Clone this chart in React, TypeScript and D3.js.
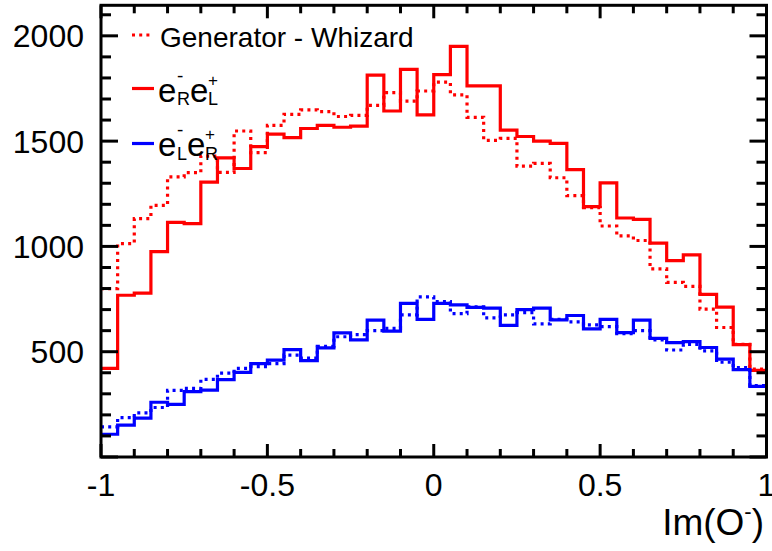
import React from 'react';
import * as d3 from 'd3';

// ---- data (40 bins from -1 to 1) ----
const X_MIN = -1;
const X_MAX = 1;
const N_BINS = 40;
const Y_MAX = 2145;

// e-_R e+_L, reconstructed (solid red)
const redReco = [421, 768, 778, 975, 1114, 1108, 1305, 1420, 1370, 1474, 1533, 1517, 1560, 1575, 1566, 1571, 1813, 1643, 1841, 1625,
  1816, 1950, 1762, 1762, 1552, 1522, 1500, 1489, 1365, 1189, 1302, 1135, 1128, 1016, 933, 960, 772, 712, 534, 411];
// e-_R e+_L, generator Whizard (dotted red)
const redGen = [800, 1013, 1132, 1195, 1330, 1350, 1429, 1352, 1548, 1445, 1575, 1627, 1648, 1640, 1617, 1622, 1670, 1730, 1690, 1738,
  1780, 1720, 1613, 1504, 1513, 1381, 1394, 1326, 1241, 1184, 1097, 1050, 1028, 893, 829, 810, 702, 615, 535, 418];
// e-_L e+_R, reconstructed (solid blue)
const blueReco = [108, 151, 185, 260, 250, 310, 318, 367, 402, 443, 460, 510, 458, 518, 589, 556, 650, 598, 730, 654,
  730, 722, 711, 707, 625, 700, 707, 651, 672, 608, 654, 591, 650, 563, 543, 548, 520, 465, 415, 335];
// e-_L e+_R, generator Whizard (dotted blue)
const blueGen = [143, 187, 210, 235, 316, 326, 369, 398, 421, 429, 443, 484, 470, 526, 571, 581, 600, 611, 675, 760,
  738, 681, 713, 661, 675, 686, 632, 654, 642, 627, 619, 586, 600, 556, 508, 535, 504, 450, 425, 339];

const xTickLabels = ['-1', '-0.5', '0', '0.5', '1'];
const yTickLabels = ['500', '1000', '1500', '2000'];

const FONT = '"Liberation Sans", Arial, Helvetica, sans-serif';
const RED = '#ff0000';
const BLUE = '#0000ff';

export default function App() {
  const W = 772, H = 551;
  const left = 101, right = 766.5, top = 5.3, bottom = 457;
  const x = d3.scaleLinear().domain([X_MIN, X_MAX]).range([left, right]);
  const y = d3.scaleLinear().domain([0, Y_MAX]).range([bottom, top]);
  const bw = (X_MAX - X_MIN) / N_BINS;

  const line = d3.line<[number, number]>()
    .x(d => x(d[0]))
    .y(d => y(d[1]))
    .curve(d3.curveStepAfter);

  const histPath = (vals: number[]) => {
    const pts: [number, number][] = vals.map((v, i) => [X_MIN + i * bw, v]);
    pts.push([X_MAX, vals[vals.length - 1]]);
    return line(pts) || '';
  };

  const yTicks = d3.range(0, 2101, 100);
  const xTicks = d3.range(-10, 11).map(i => i / 10);
  const dash = '3 4.2';

  return (
    <svg width={W} height={H} style={{ position: 'absolute', left: 0, top: 0, display: 'block', background: '#fff' }}
      fontFamily={FONT}>
      <rect x={0} y={0} width={W} height={H} fill="#fff" />

      {/* histograms */}
      <path d={histPath(redReco)} fill="none" stroke={RED} strokeWidth={3.2} />
      <path d={histPath(redGen)} fill="none" stroke={RED} strokeWidth={3.2} strokeDasharray={dash} />
      <path d={histPath(blueReco)} fill="none" stroke={BLUE} strokeWidth={3.2} />
      <path d={histPath(blueGen)} fill="none" stroke={BLUE} strokeWidth={3.2} strokeDasharray={dash} />

      {/* frame */}
      <rect x={left} y={top} width={right - left} height={bottom - top} fill="none" stroke="#000" strokeWidth={3} />

      {/* y ticks */}
      {yTicks.map(v => {
        const major = v % 500 === 0;
        const len = major ? 17 : 10;
        return (
          <g key={'y' + v}>
            <line x1={left} x2={left + len} y1={y(v)} y2={y(v)} stroke="#000" strokeWidth={3} />
            <line x1={right} x2={right - len} y1={y(v)} y2={y(v)} stroke="#000" strokeWidth={3} />
          </g>
        );
      })}
      {/* x ticks */}
      {xTicks.map((v, i) => {
        const major = Math.abs(Math.round(v * 10)) % 5 === 0;
        const len = major ? 13 : 8;
        return (
          <g key={'x' + i}>
            <line x1={x(v)} x2={x(v)} y1={bottom} y2={bottom - len} stroke="#000" strokeWidth={3} />
            <line x1={x(v)} x2={x(v)} y1={top} y2={top + len} stroke="#000" strokeWidth={3} />
          </g>
        );
      })}

      {/* tick labels */}
      {yTickLabels.map(t => (
        <text key={'yl' + t} x={84} y={y(+t) + 11.5} textAnchor="end" fontSize={32} fill="#000">{t}</text>
      ))}
      {xTickLabels.map(t => (
        <text key={'xl' + t} x={x(+t)} y={495.5} textAnchor="middle" fontSize={32} fill="#000">{t}</text>
      ))}

      {/* axis title */}
      <text x={764} y={535} textAnchor="end" fontSize={37} fill="#000">
        Im(O<tspan fontSize={22} dy={-16}>-</tspan><tspan dy={16}>)</tspan>
      </text>

      {/* legend */}
      <line x1={132} x2={153} y1={35} y2={35} stroke={RED} strokeWidth={3.2} strokeDasharray={dash} />
      <text x={160} y={46.5} fontSize={28} fill="#000">Generator - Whizard</text>

      <line x1={132} x2={154} y1={88.5} y2={88.5} stroke={RED} strokeWidth={3.2} />
      <g fill="#000">
        <text x={158} y={102} fontSize={33}>e</text>
        <text x={177} y={82} fontSize={19}>-</text>
        <text x={177} y={105} fontSize={18}>R</text>
        <text x={190} y={102} fontSize={33}>e</text>
        <text x={208} y={86} fontSize={17}>+</text>
        <text x={208} y={105} fontSize={18}>L</text>
      </g>

      <line x1={132} x2={154} y1={143.5} y2={143.5} stroke={BLUE} strokeWidth={3.2} />
      <g fill="#000">
        <text x={158} y={156} fontSize={33}>e</text>
        <text x={177} y={136} fontSize={19}>-</text>
        <text x={177} y={160} fontSize={18}>L</text>
        <text x={187} y={156} fontSize={33}>e</text>
        <text x={205} y={140} fontSize={17}>+</text>
        <text x={205} y={160} fontSize={18}>R</text>
      </g>
    </svg>
  );
}
